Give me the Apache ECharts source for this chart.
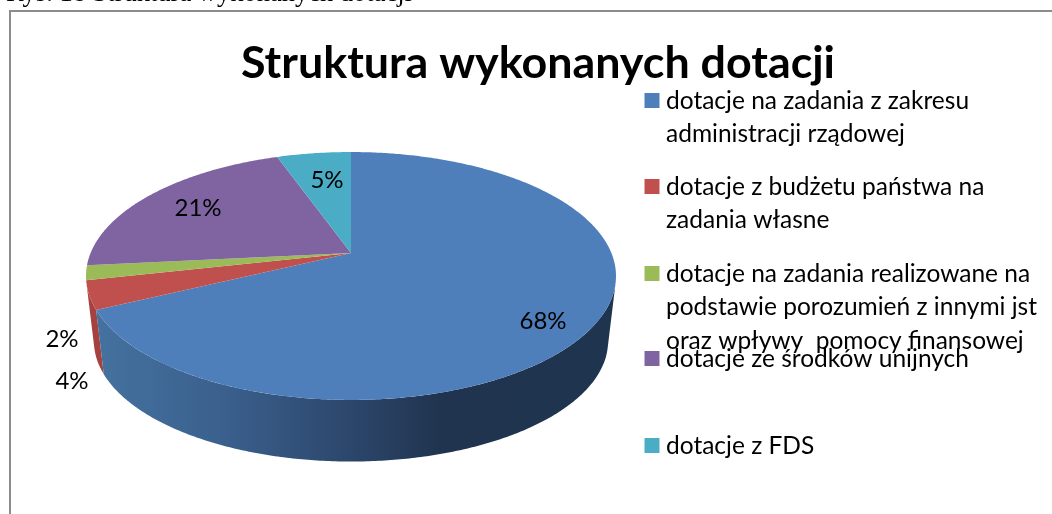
<!DOCTYPE html>
<html>
<head>
<meta charset="utf-8">
<style>
  html, body { margin: 0; padding: 0; background: #fff; }
  #chart { width: 1052px; height: 514px; overflow: hidden; }
</style>
<script src="https://cdn.jsdelivr.net/npm/echarts@6/dist/echarts.min.js"></script>
</head>
<body>
<div id="chart"></div>
<script>
  var categories = [
    'dotacje na zadania z zakresu\nadministracji rządowej',
    'dotacje z budżetu państwa na\nzadania własne',
    'dotacje na zadania realizowane na\npodstawie porozumień z innymi jst\noraz wpływy  pomocy finansowej',
    'dotacje ze środków unijnych',
    'dotacje z FDS'
  ];
  var shares = [67.8, 3.7, 1.9, 21.2, 5.4];
  var colors = ['#4f7fbb', '#c0504d', '#9bbb59', '#8064a2', '#4bacc6'];
  var wallColors = ['#3f6c9e', '#a5423f', '#7f9a49', '#694f87', '#3d8da3'];

  var chartTitle = 'Struktura wykonanych dotacji';
  var caption = 'Rys. 18 Struktura wykonanych dotacji';

  var myChart = echarts.init(document.getElementById('chart'), null, { renderer: 'canvas' });

  // perspektywa: okrag -> elipsa, srodek kola nie lezy w srodku elipsy
  var view = { x: 351, y: 253, a: 260.4, b: 119.7, k: 0.1854 };
  var bottom = { x: 351, y: 319, a: 252.6, b: 116.1, k: 0.1854 };

  function project(p, theta, r) {
    var u = Math.sin(theta) * r, v = Math.cos(theta) * r;
    var w = 1 + p.k * v;
    return [p.x + p.a * u / w, p.y - p.b * v / w];
  }

  var total = shares.reduce(function (s, v) { return s + v; }, 0);
  var starts = [];
  shares.reduce(function (s, v, i) { starts[i] = s; return s + v; }, 0);

  function rim(p, from, to) {
    var pts = [];
    var n = Math.max(4, Math.ceil((to - from) / 0.01));
    for (var i = 0; i <= n; i++) {
      pts.push(project(p, from + (to - from) * i / n, 1));
    }
    return pts;
  }

  // widoczna jest tylko przednia czesc sciany, szukamy stycznych
  function isFront(t) {
    var a = project(view, t, 1), b = project(view, t + 0.001, 1), c = project(bottom, t, 1);
    return (b[0] - a[0]) * (c[1] - a[1]) - (b[1] - a[1]) * (c[0] - a[0]) < 0;
  }
  var frontFrom = null, frontTo = null;
  for (var t = 0; t < Math.PI * 2; t += 0.002) {
    if (isFront(t)) {
      if (frontFrom === null) frontFrom = t;
      frontTo = t;
    }
  }

  function renderWall(params, api) {
    var i = api.value(0);
    var from = Math.max(starts[i] / total * Math.PI * 2, frontFrom);
    var to = Math.min((starts[i] + api.value(1)) / total * Math.PI * 2, frontTo);
    if (to <= from) return null;
    var fill = wallColors[i];
    if (i === 0) {
      fill = new echarts.graphic.LinearGradient(100, 0, 616, 0, [
        { offset: 0, color: '#44719f' },
        { offset: 0.25, color: '#3a5f8c' },
        { offset: 0.5, color: '#2b4569' },
        { offset: 0.66, color: '#20344f' },
        { offset: 1, color: '#1f344e' }
      ], true);
    }
    var pts = rim(view, from, to).concat(rim(bottom, from, to).reverse());
    return { type: 'polygon', shape: { points: pts }, style: { fill: fill } };
  }

  function renderTop(params, api) {
    var i = api.value(0);
    var from = starts[i] / total * Math.PI * 2;
    var to = (starts[i] + api.value(1)) / total * Math.PI * 2;
    var pts = [[view.x, view.y]].concat(rim(view, from, to));
    return { type: 'polygon', shape: { points: pts }, style: { fill: colors[i] } };
  }

  // sciany od tylu do przodu: przedni plaster zaslania sasiadow
  var wallOrder = [3, 4, 2, 1, 0];
  var wallData = wallOrder.map(function (i) { return [i, shares[i]]; });
  var topData = shares.map(function (v, i) { return [i, v]; });

  var labelPos = [[543, 321], [72, 381], [62, 339], [198, 208], [327, 180]];
  var legendY = [100, 186, 273, 358, 445];

  var graphic = [
    { type: 'polyline', silent: true, shape: { points: [[10, 514], [10, 11], [1052, 11]] },
      style: { fill: null, stroke: '#8c8c8c', lineWidth: 2 } },
    { type: 'text', x: 6, y: -19, style: { text: caption, fill: '#000',
      font: '26.5px "Liberation Serif"' } }
  ];
  categories.forEach(function (name, i) {
    graphic.push({ type: 'rect', shape: { x: 644.5, y: legendY[i] - 7, width: 15, height: 15 },
      style: { fill: colors[i] } });
    graphic.push({ type: 'text', x: 666, y: legendY[i] - 16, style: {
      text: name, fill: '#000', font: '24.5px Lato', lineHeight: 33.5 } });
  });
  shares.forEach(function (v, i) {
    graphic.push({ type: 'text', x: labelPos[i][0], y: labelPos[i][1], z: 20, style: {
      text: Math.round(v) + '%', fill: '#000', font: '24px Lato',
      align: 'center', verticalAlign: 'middle' } });
  });

  myChart.setOption({
    animation: false,
    title: {
      text: chartTitle,
      left: 236,
      top: 36,
      textStyle: { fontFamily: 'Lato', fontWeight: 'bold', fontSize: 44.8, color: '#000' }
    },
    graphic: graphic,
    series: [
      { type: 'custom', coordinateSystem: 'none', silent: true, renderItem: renderWall, data: wallData, z: 2 },
      { type: 'custom', coordinateSystem: 'none', silent: true, renderItem: renderTop, data: topData, z: 3 }
    ]
  });
</script>
</body>
</html>
